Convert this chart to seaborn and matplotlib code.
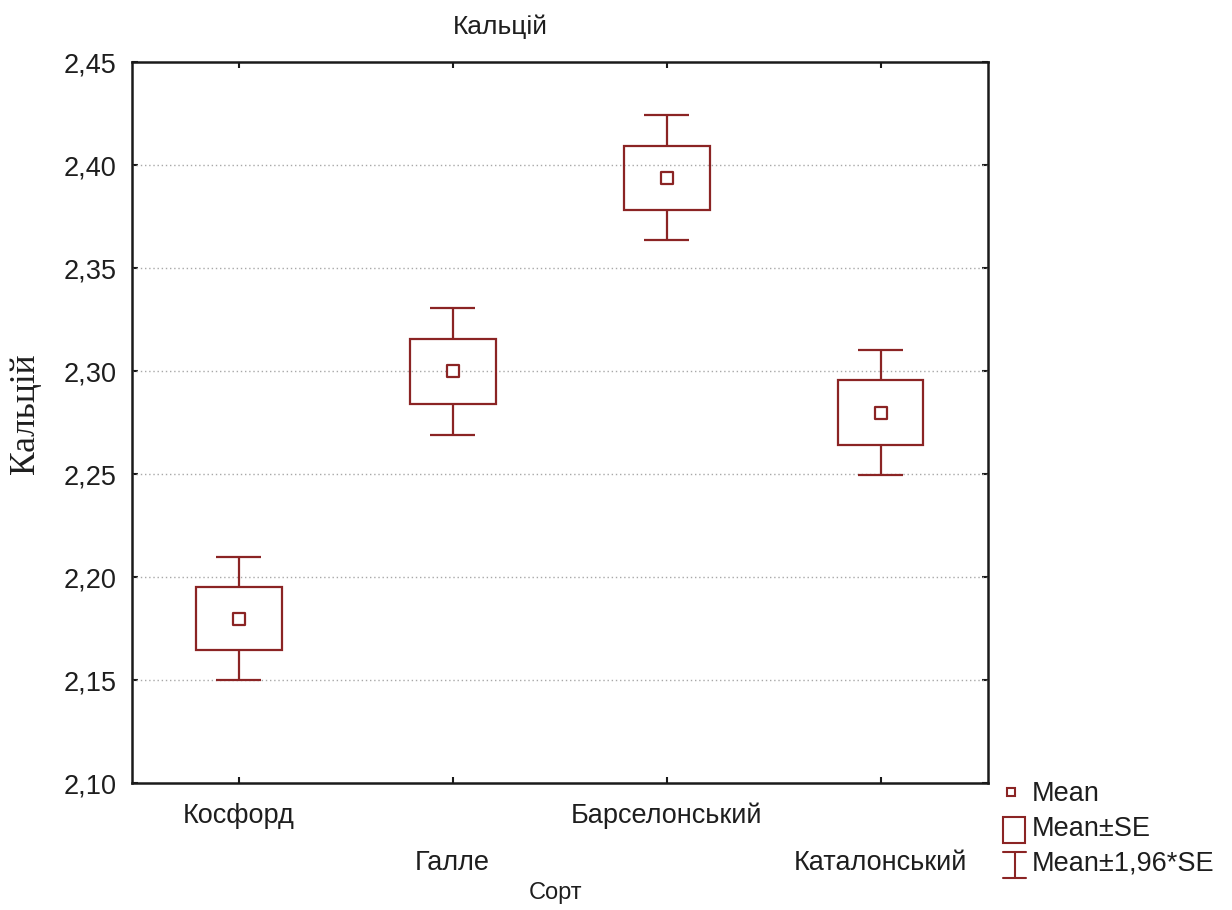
import numpy as np
import pandas as pd
import matplotlib
matplotlib.use("Agg")
import matplotlib.pyplot as plt
from matplotlib.ticker import FuncFormatter, FixedLocator
from matplotlib.patches import Rectangle
import seaborn as sns

# Calcium content by variety: mean and standard error
varieties = ["Косфорд", "Галле", "Барселонський", "Каталонський"]
means = [2.180, 2.300, 2.394, 2.280]
se = [0.0153, 0.0158, 0.0155, 0.0156]
y_ticks = [2.10, 2.15, 2.20, 2.25, 2.30, 2.35, 2.40, 2.45]
legend_labels = ["Mean", "Mean±SE", "Mean±1,96*SE"]

sns.set_theme(style="white")
plt.rcParams["font.family"] = ["Liberation Sans", "DejaVu Sans"]

df = pd.DataFrame({"Сорт": varieties, "mean": means, "se": se})
df["pos"] = np.arange(len(df))
df["lo_se"] = df["mean"] - df["se"]
df["hi_se"] = df["mean"] + df["se"]
df["lo_ci"] = df["mean"] - 1.96 * df["se"]
df["hi_ci"] = df["mean"] + 1.96 * df["se"]

W, H = 1232, 910
fig = plt.figure(figsize=(W / 100, H / 100), dpi=100)
fig.patch.set_facecolor("white")

# axes placed in pixel terms
x0, x1, y0, y1 = 131.7, 987.7, 62.3, 783.3
ax = fig.add_axes([x0 / W, 1 - y1 / H, (x1 - x0) / W, (y1 - y0) / H])
ax.set_facecolor("white")

mark = "#8b2424"
box_w = 0.40
cap_w = 0.21

# Mean ± SE boxes
ax.bar(df["pos"], 2 * df["se"], bottom=df["lo_se"], width=box_w,
       fill=False, edgecolor=mark, linewidth=1.6, zorder=3)
# Mean ± 1.96*SE whiskers (from box edge to cap)
ax.vlines(df["pos"], df["hi_se"], df["hi_ci"], color=mark, linewidth=1.6, zorder=3)
ax.vlines(df["pos"], df["lo_ci"], df["lo_se"], color=mark, linewidth=1.6, zorder=3)
ax.hlines(df["hi_ci"], df["pos"] - cap_w / 2, df["pos"] + cap_w / 2, color=mark, linewidth=1.6, zorder=3)
ax.hlines(df["lo_ci"], df["pos"] - cap_w / 2, df["pos"] + cap_w / 2, color=mark, linewidth=1.6, zorder=3)
# Means
sns.scatterplot(data=df, x="pos", y="mean", marker="s", s=68, facecolor="white",
                edgecolor=mark, linewidth=1.6, zorder=4, ax=ax, legend=False)

ax.set_xlim(-0.5, 3.5)
ax.set_ylim(2.10, 2.45)
ax.yaxis.set_major_locator(FixedLocator(y_ticks))
ax.yaxis.set_major_formatter(FuncFormatter(lambda v, p: f"{v:.2f}".replace(".", ",")))
ax.set_xticks(df["pos"])
ax.set_xticklabels(varieties)
ax.set_xlabel("")
ax.set_ylabel("")

# dotted horizontal grid inside the frame
for v in y_ticks[1:-1]:
    ax.axhline(v, color="#a8a8a8", linestyle=(0, (1, 2)), linewidth=1.0, zorder=1)

for s in ax.spines.values():
    s.set_visible(True)
    s.set_color("#1a1a1a")
    s.set_linewidth(1.8)

ax.tick_params(axis="both", direction="in", length=4, width=1.5, color="#1a1a1a",
               labelsize=19.5, labelcolor="#1e1e1e",
               top=True, right=True, bottom=True, left=True)
ax.tick_params(axis="y", pad=11)
ax.tick_params(axis="x", pad=14)
for i, tick in enumerate(ax.xaxis.get_major_ticks()):
    if i % 2 == 1:
        tick.set_pad(48)

# titles
fig.text(500 / W, 1 - 27 / H, "Кальцій", ha="center", va="center", fontsize=19, color="#1e1e1e")
fig.text(555 / W, 1 - 893 / H, "Сорт", ha="center", va="center", fontsize=17, color="#1e1e1e")
fig.text(25 / W, 1 - 414 / H, "Кальцій", ha="center", va="center", rotation=90,
         fontsize=25.5, family=["Liberation Serif", "DejaVu Serif"], color="#1e1e1e")

# legend drawn in pixel coordinates
lax = fig.add_axes([0, 0, 1, 1], facecolor="none")
lax.set_xlim(0, W)
lax.set_ylim(H, 0)
lax.axis("off")
lax.add_patch(Rectangle((1007, 788), 8, 8, fill=False, edgecolor=mark, linewidth=1.5))
lax.add_patch(Rectangle((1003, 817), 22, 26, fill=False, edgecolor=mark, linewidth=1.5))
lax.plot([1014.5, 1014.5], [852, 878], color=mark, linewidth=1.5)
lax.plot([1003, 1026], [852, 852], color=mark, linewidth=1.5)
lax.plot([1003, 1026], [878, 878], color=mark, linewidth=1.5)
for yy, lbl in zip([794, 829, 864], legend_labels):
    lax.text(1032, yy, lbl, ha="left", va="center", fontsize=19.5, color="#1e1e1e")

fig.savefig("out.png", dpi=100, facecolor="white")
